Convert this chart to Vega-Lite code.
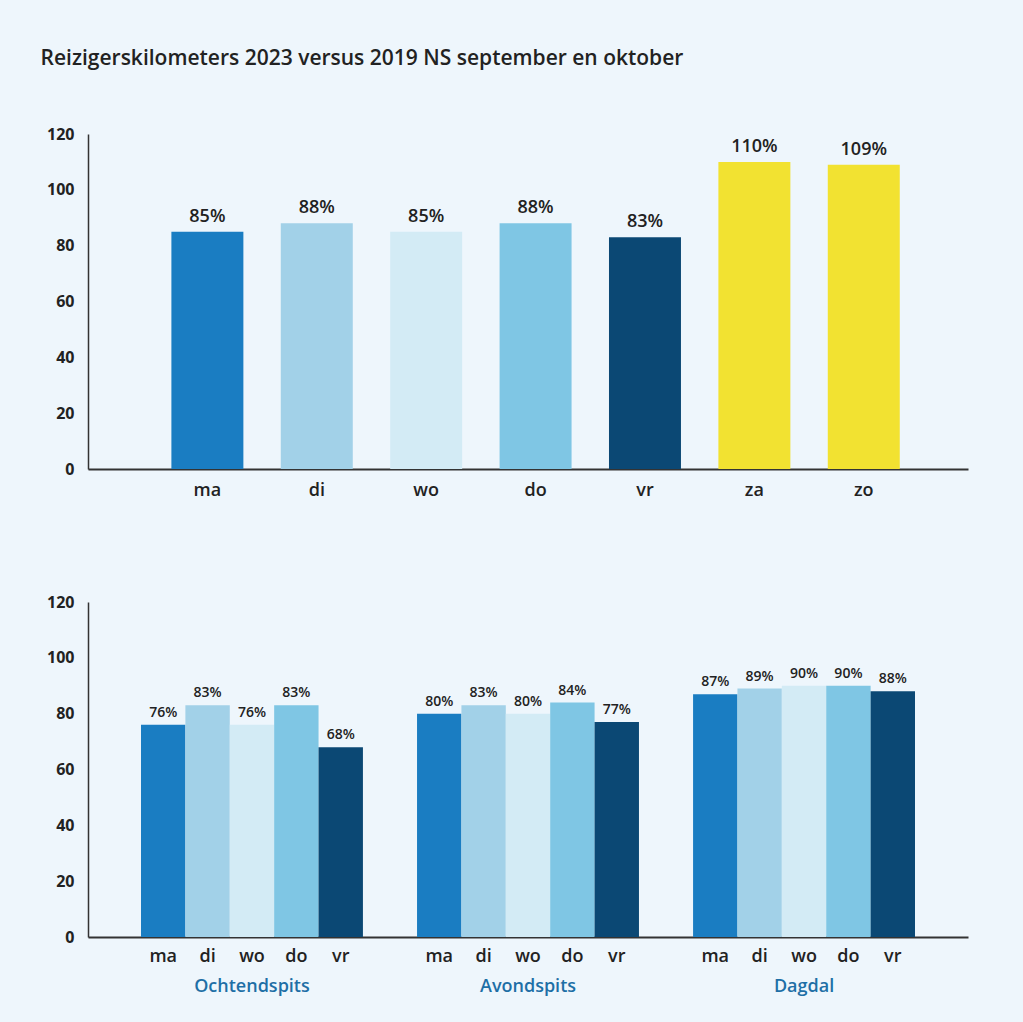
{
  "$schema": "https://vega.github.io/schema/vega-lite/v6.json",
  "background": "#eef6fc",
  "padding": {"left": 40, "top": 48, "right": 55, "bottom": 30},
  "config": {
    "font": "Open Sans",
    "view": {"stroke": null},
    "axis": {"grid": false, "ticks": false, "domainColor": "#333333", "labelColor": "#222222", "title": null}
  },
  "spacing": 95,
  "vconcat": [
    {
      "width": 880,
      "height": 335,
      "title": {"text": "Reizigerskilometers 2023 versus 2019 NS september en oktober", "anchor": "start", "dx": -6, "offset": 57, "fontSize": 21, "fontWeight": 600, "color": "#222222"},
      "data": {"values": [
        {"day": "ma", "value": 85, "label": "85%"},
        {"day": "di", "value": 88, "label": "88%"},
        {"day": "wo", "value": 85, "label": "85%"},
        {"day": "do", "value": 88, "label": "88%"},
        {"day": "vr", "value": 83, "label": "83%"},
        {"day": "za", "value": 110, "label": "110%"},
        {"day": "zo", "value": 109, "label": "109%"}
      ]},
      "encoding": {
        "x": {"field": "day", "type": "nominal", "sort": null,
          "scale": {"paddingInner": 0.342, "paddingOuter": 0.693, "align": 0.55},
          "axis": {"labelAngle": 0, "labelFontSize": 18, "labelFontWeight": 600, "labelPadding": 12, "domainWidth": 2}},
        "y": {"field": "value", "type": "quantitative",
          "scale": {"domain": [0, 120], "nice": false},
          "axis": {"values": [0, 20, 40, 60, 80, 100, 120], "labelFontSize": 16, "labelFontWeight": 700, "labelPadding": 14, "domainWidth": 1.5}}
      },
      "layer": [
        {"mark": {"type": "bar"},
          "encoding": {"color": {"field": "day", "type": "nominal",
            "scale": {"domain": ["ma", "di", "wo", "do", "vr", "za", "zo"], "range": ["#1a7dc2", "#a2d1e8", "#d3ebf5", "#7fc6e4", "#0b4874", "#f2e231", "#f2e231"]},
            "legend": null}}},
        {"mark": {"type": "text", "baseline": "bottom", "dy": -6, "fontSize": 18, "fontWeight": 600, "color": "#222222"},
          "encoding": {"text": {"field": "label", "type": "nominal"}}}
      ]
    },
    {
      "width": 880,
      "height": 335,
      "data": {"values": [
        {"group": "Ochtendspits", "day": "ma", "value": 76, "label": "76%"},
        {"group": "Ochtendspits", "day": "di", "value": 83, "label": "83%"},
        {"group": "Ochtendspits", "day": "wo", "value": 76, "label": "76%"},
        {"group": "Ochtendspits", "day": "do", "value": 83, "label": "83%"},
        {"group": "Ochtendspits", "day": "vr", "value": 68, "label": "68%"},
        {"group": "Avondspits", "day": "ma", "value": 80, "label": "80%"},
        {"group": "Avondspits", "day": "di", "value": 83, "label": "83%"},
        {"group": "Avondspits", "day": "wo", "value": 80, "label": "80%"},
        {"group": "Avondspits", "day": "do", "value": 84, "label": "84%"},
        {"group": "Avondspits", "day": "vr", "value": 77, "label": "77%"},
        {"group": "Dagdal", "day": "ma", "value": 87, "label": "87%"},
        {"group": "Dagdal", "day": "di", "value": 89, "label": "89%"},
        {"group": "Dagdal", "day": "wo", "value": 90, "label": "90%"},
        {"group": "Dagdal", "day": "do", "value": 90, "label": "90%"},
        {"group": "Dagdal", "day": "vr", "value": 88, "label": "88%"}
      ]},
      "encoding": {
        "x": {"field": "group", "type": "nominal", "sort": null,
          "scale": {"paddingInner": 0.196, "paddingOuter": 0.192},
          "axis": {"labelAngle": 0, "labelFontSize": 18, "labelFontWeight": 600, "labelColor": "#1e6fa6", "labelPadding": 40, "domainWidth": 2}},
        "xOffset": {"field": "day", "type": "nominal", "sort": null, "scale": {"paddingInner": 0, "paddingOuter": 0}},
        "y": {"field": "value", "type": "quantitative",
          "scale": {"domain": [0, 120], "nice": false},
          "axis": {"values": [0, 20, 40, 60, 80, 100, 120], "labelFontSize": 16, "labelFontWeight": 700, "labelPadding": 14, "domainWidth": 1.5}}
      },
      "layer": [
        {"mark": {"type": "bar"},
          "encoding": {"color": {"field": "day", "type": "nominal",
            "scale": {"domain": ["ma", "di", "wo", "do", "vr", "za", "zo"], "range": ["#1a7dc2", "#a2d1e8", "#d3ebf5", "#7fc6e4", "#0b4874", "#f2e231", "#f2e231"]},
            "legend": null}}},
        {"mark": {"type": "text", "baseline": "bottom", "dy": -5, "fontSize": 14, "fontWeight": 600, "color": "#222222"},
          "encoding": {"text": {"field": "label", "type": "nominal"}}},
        {"mark": {"type": "text", "baseline": "top", "dy": 11, "fontSize": 18, "fontWeight": 600, "color": "#222222"},
          "encoding": {"y": {"datum": 0}, "text": {"field": "day", "type": "nominal"}}}
      ]
    }
  ]
}
